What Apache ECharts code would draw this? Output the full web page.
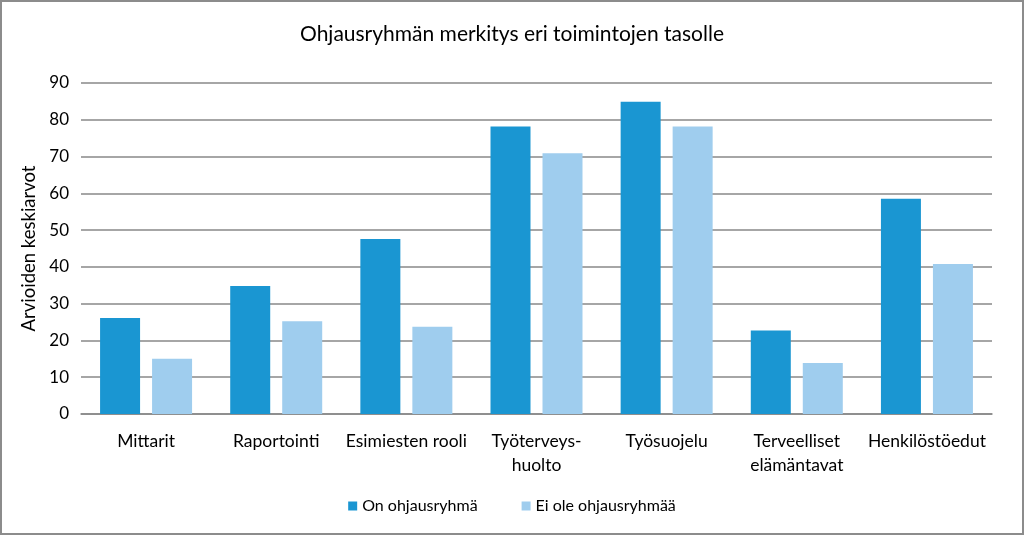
<!DOCTYPE html>
<html>
<head>
<meta charset="utf-8">
<script src="https://cdn.jsdelivr.net/npm/echarts@6/dist/echarts.min.js"></script>
<style>
  html, body { margin: 0; padding: 0; background: #fff; }
  #chart { width: 1024px; height: 535px; box-sizing: border-box; border: 2px solid #8c8c8c; }
</style>
</head>
<body>
<div id="chart"></div>
<script>
// kategoriat ja arvot luettu kuvasta
var categories = ['Mittarit', 'Raportointi', 'Esimiesten rooli', 'Työterveys-\nhuolto', 'Työsuojelu', 'Terveelliset\nelämäntavat', 'Henkilöstöedut'];
var onRyhma = [26.1, 34.8, 47.6, 78.2, 84.9, 22.7, 58.5];
var eiRyhmaa = [15.0, 25.2, 23.7, 70.9, 78.2, 13.9, 40.8];
var yTicks = [0, 10, 20, 30, 40, 50, 60, 70, 80, 90];

var myChart = echarts.init(document.getElementById('chart'));
var fontName = 'Lato';
option = {
    backgroundColor: '#ffffff',
    animation: false,
    title: {
        text: 'Ohjausryhmän merkitys eri toimintojen tasolle',
        left: 'center',
        top: 17,
        textStyle: {
            fontFamily: fontName,
            fontSize: 21,
            fontWeight: 'normal',
            color: '#000'
        }
    },
    legend: {
        bottom: 14,
        left: 'center',
        itemWidth: 9,
        itemHeight: 9,
        itemGap: 44,
        icon: 'rect',
        textStyle: { fontFamily: fontName, fontSize: 16, color: '#000' },
        data: ['On ohjausryhmä', 'Ei ole ohjausryhmää']
    },
    grid: {
        left: 79,
        right: 30,
        top: 81,
        bottom: 119
    },
    xAxis: {
        type: 'category',
        data: categories,
        axisTick: { show: false },
        axisLine: { lineStyle: { color: '#888', width: 1.5 } },
        axisLabel: {
            fontFamily: fontName,
            fontSize: 17.5,
            color: '#000',
            margin: 15,
            lineHeight: 24,
            interval: 0
        }
    },
    yAxis: {
        type: 'value',
        min: yTicks[0],
        max: yTicks[yTicks.length - 1],
        interval: 10,
        name: 'Arvioiden keskiarvot',
        nameLocation: 'middle',
        nameGap: 38,
        nameTextStyle: { fontFamily: fontName, fontSize: 18.5, color: '#000' },
        axisLine: { show: false },
        axisTick: { show: false },
        axisLabel: { fontFamily: fontName, fontSize: 17, color: '#000', margin: 12 },
        splitLine: { lineStyle: { color: '#888', width: 1.5 } }
    },
    series: [
        {
            name: 'On ohjausryhmä',
            type: 'bar',
            barWidth: 40,
            barGap: '30%',
            itemStyle: { color: '#1a96d2' },
            data: onRyhma
        },
        {
            name: 'Ei ole ohjausryhmää',
            type: 'bar',
            barWidth: 40,
            itemStyle: { color: '#9fcdee' },
            data: eiRyhmaa
        }
    ]
};
myChart.setOption(option);
</script>
</body>
</html>
